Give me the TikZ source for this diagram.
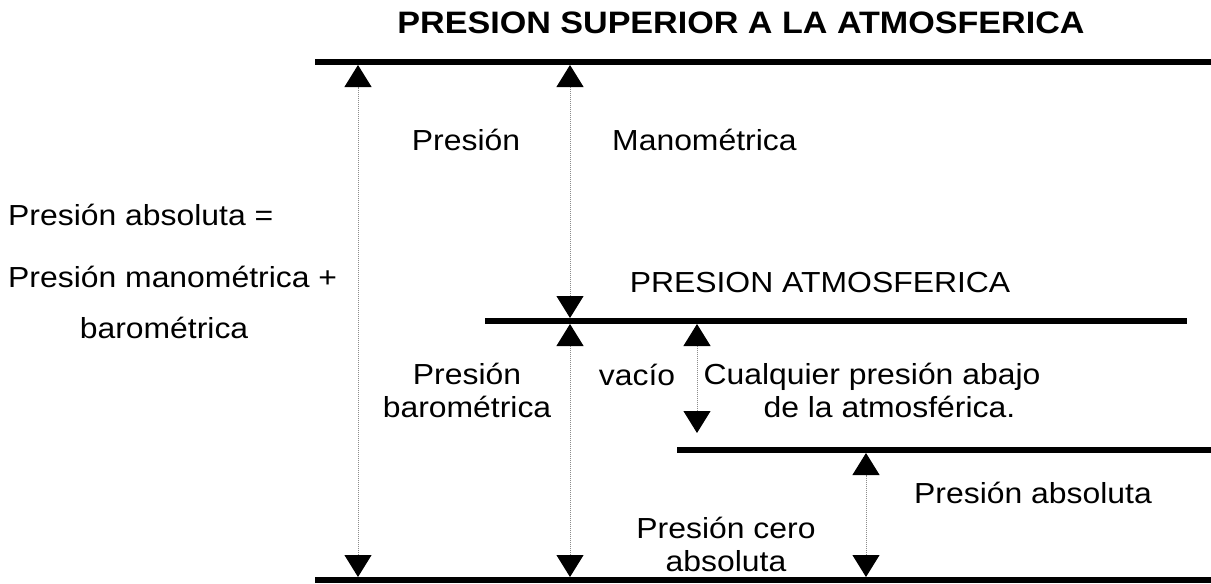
\documentclass[tikz,border=0pt]{standalone}
\usepackage{fontspec}
\setmainfont{Liberation Sans}[FakeStretch=1.1]
\usetikzlibrary{arrows.meta}
\tikzset{
  nivel/.style={line width=5.5pt},
  medida/.style={densely dotted, black!45, line width=1pt,
    {Triangle[width=27pt,length=22pt,color=black]}-{Triangle[width=27pt,length=22pt,color=black]}},
  texto/.style={font=\fontsize{29}{33}\selectfont, inner sep=0pt, align=center},
}
\begin{document}
\begin{tikzpicture}[x=1pt,y=-1pt]
	\useasboundingbox (0,0) rectangle (1211,584);
	% niveles de presion
	\coordinate (sup1) at (315,62);  \coordinate (sup2) at (1211,62);
	\coordinate (atm1) at (485,321); \coordinate (atm2) at (1187,321);
	\coordinate (baj1) at (677,450); \coordinate (baj2) at (1211,450);
	\coordinate (cer1) at (315,580); \coordinate (cer2) at (1211,580);
	\draw[nivel] (sup1)--(sup2) (atm1)--(atm2) (baj1)--(baj2) (cer1)--(cer2);
	% extremos de las flechas
	\coordinate (a1) at (358,65);  \coordinate (a2) at (358,577);
	\coordinate (b1) at (570,65);  \coordinate (b2) at (570,318);
	\coordinate (b3) at (570,324); \coordinate (b4) at (570,577);
	\coordinate (c1) at (697,324); \coordinate (c2) at (697,433);
	\coordinate (d1) at (866,453); \coordinate (d2) at (866,577);
	\draw[medida] (a2)--(a1);
	\draw[medida] (b2)--(b1);
	\draw[medida] (b4)--(b3);
	\draw[medida] (c2)--(c1);
	\draw[medida] (d2)--(d1);
	% textos
	\node[texto,font=\bfseries\fontsize{31}{35}\selectfont] (titulo) at (741,23) {PRESION SUPERIOR A LA ATMOSFERICA};
	\node[texto] (pres) at (466,140) {Presión};
	\node[texto,anchor=west] (mano) at (612,140) {Manométrica};
	\node[texto,anchor=west] (abs1) at (8,215) {Presión absoluta =};
	\node[texto,anchor=west] (abs2) at (8,277) {Presión manométrica +};
	\node[texto] (abs3) at (164,328) {barométrica};
	\node[texto] (atm) at (820,283) {PRESION ATMOSFERICA};
	\node[texto] (baro) at (467,390) {Presión\\barométrica};
	\node[texto] (vacio) at (637,375) {vacío};
	\node[texto] (abajo) at (872,390) {Cualquier presión abajo\\\hspace{1.2em}de la atmosférica.};
	\node[texto] (pabs) at (1033,493) {Presión absoluta};
	\node[texto] (cero) at (726,544) {Presión cero\\absoluta};
\end{tikzpicture}
\end{document}
